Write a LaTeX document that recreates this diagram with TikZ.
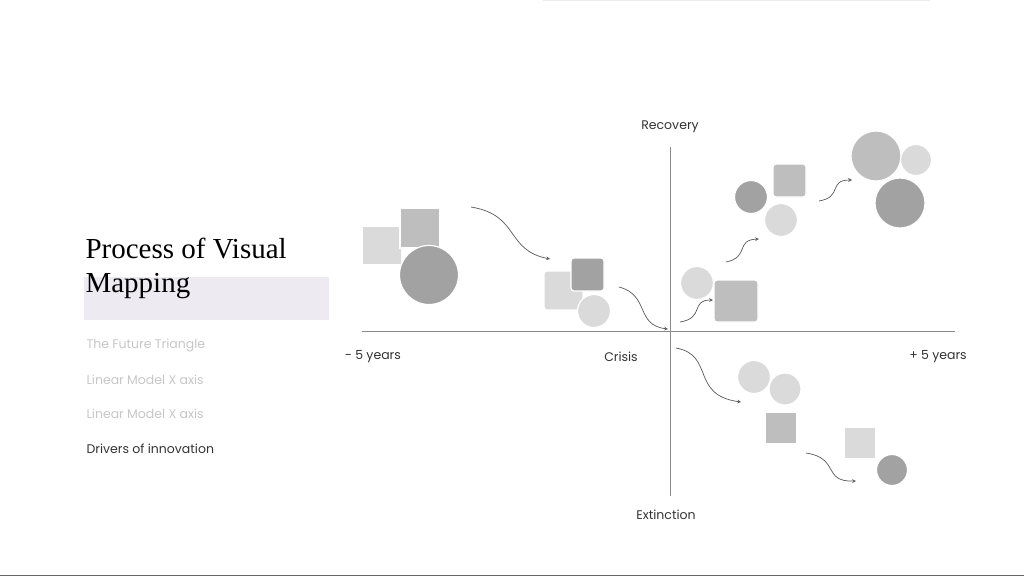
\documentclass[tikz,border=0pt]{standalone}
\usepackage{fontspec}
\setmainfont{Poppins}
\newfontfamily\serifx{Liberation Serif}
\definecolor{cL}{HTML}{DADADA}
\definecolor{cM}{HTML}{BEBEBE}
\definecolor{cD}{HTML}{A2A2A2}
\definecolor{ax}{HTML}{8A8A8A}
\definecolor{hl}{HTML}{EEEAF2}
\begin{document}
\begin{tikzpicture}[x=1pt,y=-1pt,
  sh/.style={draw=white,line width=1.2pt},
  lbl/.style={font=\fontsize{12.5}{14}\selectfont,text=black!80},
  item/.style={font=\fontsize{12.5}{14}\selectfont,anchor=west},
  arr/.style={->,>=stealth,draw=black!65,line width=0.7pt}]
\useasboundingbox (0,0) rectangle (1024,576);
\fill[white] (0,0) rectangle (1024,576);
\draw[black!8] (543,0.5) -- (930,0.5);
\draw[black!60] (0,575.5) -- (1024,575.5);
% left panel
\fill[hl] (84,277) rectangle (329,320);
\node[anchor=west,font=\serifx\fontsize{29}{34}\selectfont,align=left] (title) at (82,268) {Process of Visual\\Mapping};
\node[item,text=black!22] (i1) at (83,345) {The Future Triangle};
\node[item,text=black!22] (i2) at (83,380) {Linear Model X axis};
\node[item,text=black!22] (i3) at (83,414) {Linear Model X axis};
\node[item,text=black!80] (i4) at (83,449) {Drivers of innovation};
% axes
\coordinate (xl) at (362,331); \coordinate (xr) at (955,331);
\coordinate (yt) at (670,147); \coordinate (yb) at (670,496);
\draw[ax,line width=0.9pt] (xl) -- (xr);
\draw[ax,line width=0.9pt] (yt) -- (yb);
\node[lbl] (rec) at (670,127) {Recovery};
\node[lbl] (m5) at (373,357) {- 5 years};
\node[lbl] (cr) at (621,357) {Crisis};
\node[lbl] (p5) at (938,357) {+ 5 years};
\node[lbl] (ext) at (666,515) {Extinction};
% group 1
\filldraw[sh,fill=cL] (362,226) rectangle (402,265);
\filldraw[sh,fill=cM] (400,208) rectangle (440,248);
\filldraw[sh,fill=cD] (429,275) circle (29.5);
% group 2
\filldraw[sh,fill=cL,rounded corners=3pt] (544,271) rectangle (583,310);
\filldraw[sh,fill=cD,rounded corners=3pt] (571,258) rectangle (604,291);
\filldraw[sh,fill=cL] (594,311) circle (16.5);
% group 3
\filldraw[sh,fill=cL] (697,283) circle (16.5);
\filldraw[sh,fill=cM,rounded corners=3pt] (714,280) rectangle (758,322);
% group 4
\filldraw[sh,fill=cD] (751,197) circle (16.5);
\filldraw[sh,fill=cM,rounded corners=3pt] (773,164) rectangle (806,197);
\filldraw[sh,fill=cL] (781,220) circle (16.5);
% group 5
\filldraw[sh,fill=cM] (876,156) circle (25);
\filldraw[sh,fill=cL] (916,160) circle (15.5);
\filldraw[sh,fill=cD] (900,203) circle (25);
% group 6
\filldraw[sh,fill=cL] (754,377) circle (16.5);
\filldraw[sh,fill=cL] (785,389) circle (16);
\filldraw[sh,fill=cM] (765,412) rectangle (797,444);
\filldraw[sh,fill=cL] (844,427) rectangle (876,459);
\filldraw[sh,fill=cD] (892,470) circle (15.5);
% arrows
\coordinate (a1s) at (471,207); \coordinate (a1e) at (550,259);
\draw[arr] (a1s) .. controls (520,215) and (505,250) .. (a1e);
\coordinate (a2s) at (619,287); \coordinate (a2e) at (668,329);
\draw[arr] (a2s) .. controls (650,295) and (635,325) .. (a2e);
\coordinate (a3s) at (680,322); \coordinate (a3e) at (713,300);
\draw[arr] (a3s) .. controls (705,318) and (690,300) .. (a3e);
\coordinate (a4s) at (726,262); \coordinate (a4e) at (759,239);
\draw[arr] (a4s) .. controls (750,257) and (735,240) .. (a4e);
\coordinate (a5s) at (819,201); \coordinate (a5e) at (852,180);
\draw[arr] (a5s) .. controls (843,197) and (828,180) .. (a5e);
\coordinate (a6s) at (676,348); \coordinate (a6e) at (741,402);
\draw[arr] (a6s) .. controls (715,355) and (690,395) .. (a6e);
\coordinate (a7s) at (806,453); \coordinate (a7e) at (856,481);
\draw[arr] (a7s) .. controls (840,458) and (822,482) .. (a7e);
\end{tikzpicture}
\end{document}
